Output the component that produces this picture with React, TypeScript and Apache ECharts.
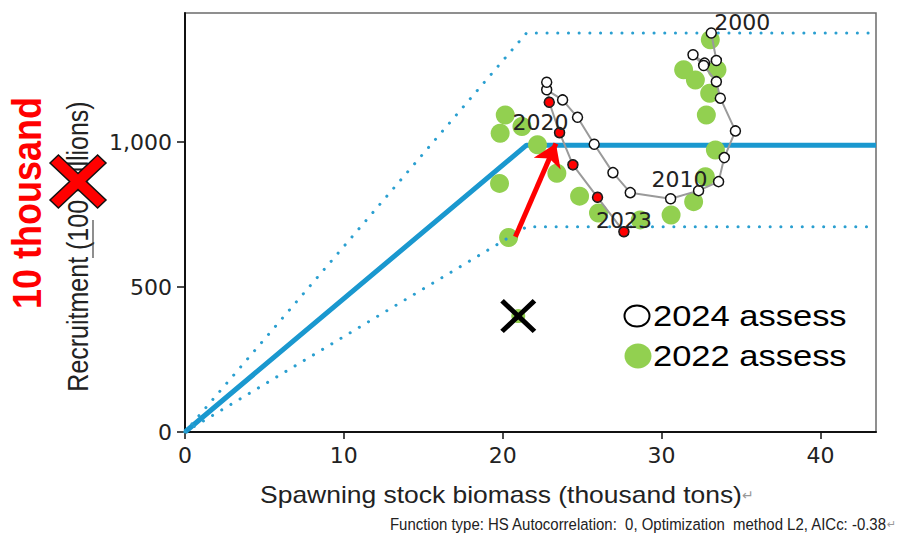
import React, { useEffect, useRef } from "react";
import * as echarts from "echarts";

// ---- data ----
const years2024 = [
  2000, 2001, 2002, 2003, 2004, 2005, 2006, 2007, 2008, 2009, 2010, 2011,
  2012, 2013, 2014, 2015, 2016, 2017, 2018, 2019, 2020, 2021, 2022, 2023,
];
const ssb2024 = [
  33.13, 33.45, 32.71, 31.98, 32.65, 33.45, 33.7, 34.65, 33.95, 33.59, 32.33,
  30.57, 28.03, 26.94, 25.76, 24.71, 23.77, 22.77, 22.77, 22.93, 23.58, 24.42,
  25.97, 27.63,
];
const rec2024 = [
  1377, 1282, 1273, 1302, 1265, 1209, 1152, 1039, 947, 864, 833, 805, 826, 895,
  993, 1086, 1146, 1181, 1207, 1138, 1033, 922, 810, 691,
];
const recentFrom = 2019; // red points

const ssb2022 = [
  33.07, 33.49, 31.39, 32.13, 33.03, 32.82, 33.39, 32.76, 32.02, 30.6, 28.66,
  26.03, 24.84, 23.41, 22.19, 21.21, 20.16, 19.84, 19.8, 20.37,
];
const rec2022 = [
  1354, 1250, 1250, 1215, 1169, 1094, 973, 881, 795, 749, 732, 756, 814, 893,
  991, 1054, 1094, 1031, 858, 671,
];
const crossedSSB = [20.98];
const crossedRec = [400];

// hockey-stick (HS) model and its band
const hsX = [0, 21.5, 43.5];
const hsMid = [0, 990, 990];
const hsUpper = [0, 1377, 1377];
const hsLower = [0, 708, 708];

// revision arrow (2022 assess 2020 -> 2024 assess 2020)
const arrowFrom = [20.8, 674];
const arrowTo = [23.35, 996];

const xTicks = [0, 10, 20, 30, 40];
const yTicks = [0, 500, 1000];
const xMax = 43.5;
const yMax = 1446;

// ---- styles ----
const labelOffsets: Record<number, [number, number]> = {
  2000: [31, -10],
  2010: [-19, -11],
  2020: [-19, -10],
  2023: [0, -11],
};
const tickFont = '"DejaVu Sans", sans-serif';
const textFont = '"Liberation Sans", Arial, sans-serif';
const STRETCH = 1.15;

function xPolygon(cx: number, cy: number, w: number, h: number, d: number) {
  const pts = [
    [0, d], [d, 0], [50, 50 - d], [100 - d, 0], [100, d], [50 + d, 50],
    [100, 100 - d], [100 - d, 100], [50, 50 + d], [d, 100], [0, 100 - d], [50 - d, 50],
  ];
  return pts.map(([px, py]) => [cx - w / 2 + (px * w) / 100, cy - h / 2 + (py * h) / 100]);
}

function yearLabel(year: number) {
  const off = labelOffsets[year];
  if (!off) return undefined;
  return {
    show: true,
    position: "inside" as const,
    offset: off,
    formatter: String(year),
    color: "#222",
    fontFamily: tickFont,
    fontSize: 22,
  };
}

export default function App() {
  const ref = useRef<HTMLDivElement>(null);

  useEffect(() => {
    if (!ref.current) return;
    const chart = echarts.init(ref.current, null, { renderer: "svg" });

    const allPts = years2024.map((y, i) => ({
      value: [ssb2024[i], rec2024[i]],
      label: y < recentFrom ? yearLabel(y) : undefined,
    }));
    const redPts = years2024
      .map((y, i) => ({ y, i }))
      .filter((o) => o.y >= recentFrom)
      .map(({ y, i }) => ({ value: [ssb2024[i], rec2024[i]], label: yearLabel(y) }));

    const dotted = {
      color: "#2A9FD0",
      width: 3,
      type: [0.1, 10.6] as number[],
      cap: "round" as const,
    };

    const option: any = {
      animation: false,
      backgroundColor: "#fff",
      grid: {
        left: 185,
        right: 26,
        top: 13,
        bottom: 102,
        show: true,
        borderColor: "#6b6b6b",
        borderWidth: 1.5,
        backgroundColor: "transparent",
      },
      xAxis: {
        type: "value",
        min: 0,
        max: xMax,
        splitLine: { show: false },
        axisLine: { show: true, onZero: false, lineStyle: { color: "#111", width: 2 } },
        axisTick: {
          show: true,
          length: 7,
          customValues: xTicks,
          lineStyle: { color: "#111", width: 1.5 },
        },
        axisLabel: {
          customValues: xTicks,
          margin: 12,
          color: "#222",
          fontFamily: tickFont,
          fontSize: 22,
        },
      },
      yAxis: {
        type: "value",
        min: 0,
        max: yMax,
        splitLine: { show: false },
        axisLine: { show: true, onZero: false, lineStyle: { color: "#111", width: 2 } },
        axisTick: {
          show: true,
          length: 8,
          customValues: yTicks,
          lineStyle: { color: "#111", width: 1.5 },
        },
        axisLabel: {
          customValues: yTicks,
          margin: 13,
          color: "#222",
          fontFamily: tickFont,
          fontSize: 22,
          formatter: (v: number) => v.toLocaleString("en-US"),
        },
      },
      series: [
        {
          name: "HS",
          type: "line",
          data: hsX.map((x, i) => [x, hsMid[i]]),
          symbol: "none",
          lineStyle: { color: "#1A98CF", width: 5 },
          silent: true,
          z: 1,
        },
        {
          name: "2022 assess",
          type: "scatter",
          data: ssb2022.map((x, i) => [x, rec2022[i]]),
          symbolSize: 19,
          itemStyle: { color: "#92D050", opacity: 1 },
          z: 2,
        },
        {
          name: "2022 assess crossed",
          type: "scatter",
          data: crossedSSB.map((x, i) => [x, crossedRec[i]]),
          symbolSize: 14,
          itemStyle: { color: "#92D050", opacity: 1 },
          z: 2,
        },
        {
          name: "HS upper",
          type: "line",
          data: hsX.map((x, i) => [x, hsUpper[i]]),
          symbol: "none",
          lineStyle: dotted,
          silent: true,
          z: 3,
        },
        {
          name: "HS lower",
          type: "line",
          data: hsX.map((x, i) => [x, hsLower[i]]),
          symbol: "none",
          lineStyle: dotted,
          silent: true,
          z: 3,
        },
        {
          name: "2024 assess",
          type: "line",
          data: allPts,
          symbol: "circle",
          symbolSize: 10,
          showAllSymbol: true,
          lineStyle: { color: "#9a9a9a", width: 2 },
          itemStyle: { color: "#fff", borderColor: "#111", borderWidth: 1.5 },
          z: 4,
        },
        {
          name: "2024 assess recent",
          type: "scatter",
          data: redPts,
          symbolSize: 9,
          itemStyle: { color: "#FF0000", borderColor: "#222", borderWidth: 1, opacity: 1 },
          z: 5,
        },
        {
          name: "crossed",
          type: "scatter",
          data: crossedSSB.map((x, i) => [x, crossedRec[i]]),
          symbol:
            "path://M0,10L10,0L50,40L90,0L100,10L60,50L100,90L90,100L50,60L10,100L0,90L40,50Z",
          symbolSize: [36, 34],
          itemStyle: { color: "#000", opacity: 1 },
          z: 6,
        },
        {
          name: "revision",
          type: "lines",
          coordinateSystem: "cartesian2d",
          data: [{ coords: [arrowFrom, arrowTo] }],
          symbol: ["none", "arrow"],
          symbolSize: 22,
          lineStyle: { color: "#FF0000", width: 5, opacity: 1, curveness: 0 },
          silent: true,
          z: 7,
        },
      ],
      graphic: [
        {
          type: "text",
          x: 27,
          y: 203,
          rotation: Math.PI / 2,
          scaleY: STRETCH,
          style: {
            text: "10 thousand",
            font: `bold 36px ${textFont}`,
            fill: "#FF0000",
            align: "center",
            verticalAlign: "middle",
          },
        },
        {
          type: "text",
          x: 78,
          y: 246.5,
          rotation: Math.PI / 2,
          scaleY: STRETCH,
          style: {
            text: "Recruitment (100 millions)",
            font: `25px ${textFont}`,
            fill: "#222",
            align: "center",
            verticalAlign: "middle",
          },
        },
        {
          type: "line",
          shape: { x1: 93, y1: 220, x2: 93, y2: 258 },
          style: { stroke: "#444", lineWidth: 1.2 },
        },
        {
          type: "polygon",
          shape: { points: xPolygon(78, 181.5, 56, 53, 15) },
          style: { fill: "#FF0000", stroke: "#111", lineWidth: 1.5 },
          z: 10,
        },
        {
          type: "ellipse",
          shape: { cx: 637, cy: 316, rx: 12.5, ry: 10.5 },
          style: { fill: "#fff", stroke: "#000", lineWidth: 2 },
        },
        {
          type: "text",
          x: 653,
          y: 316,
          scaleX: STRETCH,
          style: {
            text: "2024 assess",
            font: `30px ${textFont}`,
            fill: "#000",
            align: "left",
            verticalAlign: "middle",
          },
        },
        {
          type: "ellipse",
          shape: { cx: 638, cy: 356, rx: 13.5, ry: 12.5 },
          style: { fill: "#92D050" },
        },
        {
          type: "text",
          x: 653,
          y: 356,
          scaleX: STRETCH,
          style: {
            text: "2022 assess",
            font: `30px ${textFont}`,
            fill: "#000",
            align: "left",
            verticalAlign: "middle",
          },
        },
        {
          type: "text",
          x: 501,
          y: 495,
          scaleX: STRETCH,
          style: {
            text: "Spawning stock biomass (thousand tons)",
            font: `23px ${textFont}`,
            fill: "#222",
            align: "center",
            verticalAlign: "middle",
          },
        },
        {
          type: "text",
          x: 742,
          y: 495,
          style: {
            text: "↵",
            font: `14px ${tickFont}`,
            fill: "#999",
            align: "left",
            verticalAlign: "middle",
          },
        },
        {
          type: "text",
          x: 886,
          y: 524,
          scaleX: 0.88,
          style: {
            text: "Function type: HS Autocorrelation:  0, Optimization  method L2, AICc: -0.38",
            font: `17px ${textFont}`,
            fill: "#222",
            align: "right",
            verticalAlign: "middle",
          },
        },
        {
          type: "text",
          x: 887,
          y: 524,
          style: {
            text: "↵",
            font: `11px ${tickFont}`,
            fill: "#999",
            align: "left",
            verticalAlign: "middle",
          },
        },
      ],
    };

    chart.setOption(option);
    return () => chart.dispose();
  }, []);

  return (
    <div
      ref={ref}
      style={{ position: "fixed", left: 0, top: 0, width: 902, height: 534, background: "#fff" }}
    />
  );
}
